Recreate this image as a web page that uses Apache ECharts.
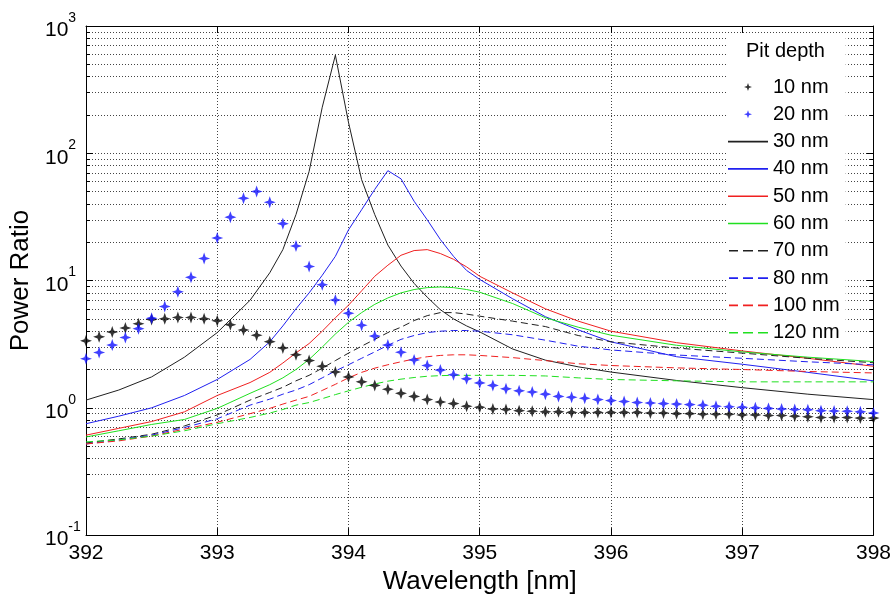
<!DOCTYPE html>
<html>
<head>
<meta charset="utf-8">
<script src="https://cdn.jsdelivr.net/npm/echarts@6/dist/echarts.min.js"></script>
<style>
html,body{margin:0;padding:0;background:#fff;}
#chart{width:894px;height:600px;}
</style>
</head>
<body>
<div id="chart"></div>
<script>
// ---- data ----
const xTicks = [392, 393, 394, 395, 396, 397, 398];
const yTickExponents = [-1, 0, 1, 2, 3];

const starX = [392.0,392.1,392.2,392.3,392.4,392.5,392.6,392.7,392.8,392.9,
  393.0,393.1,393.2,393.3,393.4,393.5,393.6,393.7,393.8,393.9,
  394.0,394.1,394.2,394.3,394.4,394.5,394.6,394.7,394.8,394.9,
  395.0,395.1,395.2,395.3,395.4,395.5,395.6,395.7,395.8,395.9,
  396.0,396.1,396.2,396.3,396.4,396.5,396.6,396.7,396.8,396.9,
  397.0,397.1,397.2,397.3,397.4,397.5,397.6,397.7,397.8,397.9,398.0];

const pit10 = [3.36,3.61,3.94,4.24,4.58,4.95,5.0,5.13,5.13,5.0,
  4.83,4.5,4.09,3.72,3.31,2.95,2.61,2.35,2.12,1.91,
  1.75,1.6,1.5,1.4,1.3,1.23,1.16,1.11,1.08,1.03,
  1.01,0.98,0.97,0.95,0.94,0.93,0.93,0.92,0.92,0.92,
  0.92,0.92,0.92,0.91,0.91,0.9,0.9,0.89,0.89,0.89,
  0.88,0.88,0.87,0.87,0.86,0.85,0.84,0.84,0.84,0.83,0.83];

const pit20 = [2.43,2.72,3.11,3.57,4.19,5.06,6.26,8.15,10.6,14.9,
  21.6,31.5,44.3,50.1,41.2,28.0,18.7,12.9,9.27,7.03,
  5.54,4.45,3.66,3.11,2.73,2.38,2.15,1.98,1.82,1.69,
  1.57,1.5,1.41,1.36,1.33,1.28,1.23,1.21,1.19,1.16,
  1.14,1.12,1.1,1.09,1.08,1.07,1.06,1.05,1.03,1.02,
  1.01,1.0,0.99,0.98,0.97,0.965,0.95,0.945,0.94,0.93,0.91];

const lineX = [392,392.25,392.5,392.75,393,393.25,393.4,393.5,393.6,393.7,393.8,393.9,
  394,394.1,394.2,394.3,394.4,394.5,394.6,394.7,394.8,394.9,
  395,395.25,395.5,395.75,396,396.5,397,397.5,398];

const pit30 = [1.15,1.38,1.75,2.5,3.9,7.0,11.5,17.5,33,72,230,590,
  175,62,33,19,13,9.5,7.4,5.9,5.0,4.4,
  3.95,2.9,2.37,2.1,1.91,1.64,1.44,1.28,1.16];
const pit40 = [0.75,0.86,1.0,1.25,1.67,2.4,3.3,4.4,6.0,8.0,11,15.5,
  25,36,52,73,63,42,30,21,15.5,12,
  10.2,7.2,5.2,4.1,3.3,2.52,2.2,1.9,1.63];
const pit50 = [0.61,0.69,0.78,0.93,1.25,1.58,1.9,2.25,2.7,3.2,4.0,5.1,
  6.4,8.3,10.8,13.2,15.8,17.2,17.5,16.3,14.7,12.8,
  10.8,8.0,6.0,4.8,4.0,3.25,2.8,2.45,2.12];
const pit60 = [0.59,0.66,0.74,0.81,0.99,1.3,1.52,1.72,2.0,2.4,3.0,3.8,
  4.7,5.6,6.5,7.3,8.0,8.5,8.8,8.9,8.8,8.5,
  8.1,6.6,5.1,4.3,3.72,3.1,2.75,2.5,2.31];
const pit70 = [0.53,0.57,0.62,0.72,0.88,1.15,1.32,1.45,1.63,1.8,2.05,2.35,
  2.69,3.05,3.45,3.9,4.3,4.85,5.3,5.6,5.6,5.45,
  5.25,4.8,4.35,3.7,3.3,2.95,2.69,2.45,2.26];
const pit80 = [0.52,0.56,0.61,0.7,0.82,1.05,1.17,1.28,1.38,1.52,1.72,1.95,
  2.18,2.45,2.75,3.1,3.45,3.7,3.9,4.0,4.05,4.05,
  4.0,3.75,3.4,3.05,2.85,2.6,2.45,2.3,2.18];
const pit100 = [0.52,0.55,0.6,0.68,0.77,0.9,0.99,1.07,1.15,1.23,1.37,1.53,
  1.72,1.9,2.05,2.18,2.3,2.42,2.52,2.58,2.61,2.61,
  2.58,2.48,2.35,2.22,2.15,2.06,2.0,1.93,1.88];
const pit120 = [0.54,0.56,0.6,0.66,0.75,0.84,0.91,0.97,1.05,1.1,1.18,1.27,
  1.36,1.45,1.54,1.62,1.68,1.73,1.77,1.79,1.8,1.8,
  1.8,1.8,1.78,1.72,1.67,1.63,1.6,1.6,1.6];

const seriesNames = ['10 nm','20 nm','30 nm','40 nm','50 nm','60 nm','70 nm','80 nm','100 nm','120 nm'];

// ---- helpers ----
function pairs(xs, ys){ return xs.map((x,i)=>[x, ys[i]]); }
const starPath = 'path://M0,-10 L2.6,-2.6 L10,0 L2.6,2.6 L0,10 L-2.6,2.6 L-10,0 L-2.6,-2.6 Z';
const solidIcon = 'path://M0,-4 L0,4 Z M0,-0.8 L40,-0.8 L40,0.8 L0,0.8 Z';
const dashIcon = 'path://M0,-4 L0,4 Z M1,-0.8 L10,-0.8 L10,0.8 L1,0.8 Z M15,-0.8 L25,-0.8 L25,0.8 L15,0.8 Z M30,-0.8 L40,-0.8 L40,0.8 L30,0.8 Z';
const FONT = '"Liberation Sans", Arial, sans-serif';
const gridDot = {color:'#444', width:1, type:[1,2]};

function starSeries(name, ys, color){
  return {name, type:'scatter', data:pairs(starX, ys), symbol:starPath, symbolSize:12,
    itemStyle:{color}, silent:true, z:3};
}
function lineSeries(name, ys, color, dashed){
  return {name, type:'line', data:pairs(lineX, ys), symbol:'none', showSymbol:false,
    lineStyle:{color, width:1, type: dashed ? [7,4] : 'solid'}, itemStyle:{color},
    silent:true, z:2};
}
const dashedFlags = [false,false,false,false,false,false,true,true,true,true];

const chart = echarts.init(document.getElementById('chart'), null, {renderer:'canvas'});
const option = {
  animation:false,
  backgroundColor:'#fff',
  textStyle:{fontFamily:FONT},
  title:{text:'Pit depth', left:746, top:41, padding:0,
    textStyle:{fontFamily:FONT, fontSize:20, fontWeight:'normal', color:'#000'}},
  legend:{
    data:seriesNames.map((n,i)=> i < 2 ? {name:n} : {name:n, icon: dashedFlags[i] ? dashIcon : solidIcon}),
    orient:'vertical', left:726, top:33,
    padding:[44,6,2,2], backgroundColor:'#fff',
    itemWidth:40, itemHeight:8, itemGap:7.3,
    itemStyle:{borderWidth:0},
    textStyle:{fontFamily:FONT, fontSize:20, color:'#000', lineHeight:20},
    selectedMode:false
  },
  grid:{left:86, right:18, top:26, bottom:57},
  xAxis:[{
    type:'value', min:xTicks[0], max:xTicks[xTicks.length-1], interval:1,
    name:'Wavelength [nm]', nameLocation:'middle', nameGap:30,
    nameTextStyle:{fontFamily:FONT, fontSize:26, color:'#000'},
    axisLine:{show:true, onZero:false, lineStyle:{color:'#000', width:1}},
    axisTick:{show:true, inside:true, length:7, lineStyle:{color:'#000'}},
    axisLabel:{fontFamily:FONT, fontSize:21, color:'#000', margin:8},
    splitLine:{show:true, lineStyle:gridDot}
  },{
    type:'value', position:'top', min:xTicks[0], max:xTicks[xTicks.length-1], interval:1,
    axisLine:{show:true, onZero:false, lineStyle:{color:'#000', width:1}},
    axisTick:{show:true, inside:true, length:7, lineStyle:{color:'#000'}},
    axisLabel:{show:false}, splitLine:{show:false}
  }],
  yAxis:[{
    type:'log', logBase:10, min:Math.pow(10,yTickExponents[0]), max:Math.pow(10,yTickExponents[yTickExponents.length-1]),
    name:'Power Ratio', nameLocation:'middle', nameGap:51,
    nameTextStyle:{fontFamily:FONT, fontSize:26, color:'#000'},
    axisLine:{show:true, onZero:false, lineStyle:{color:'#000', width:1}},
    axisTick:{show:true, inside:true, length:7, lineStyle:{color:'#000'}},
    minorTick:{show:true, splitNumber:9, length:4, lineStyle:{color:'#000'}},
    minorSplitLine:{show:true, lineStyle:gridDot},
    splitLine:{show:true, lineStyle:gridDot},
    axisLabel:{
      align:'left', margin:41,
      formatter:function(v){
        const e = Math.round(Math.log10(v));
        return '{b|10}{s|' + e + '}';
      },
      rich:{
        b:{fontFamily:FONT, fontSize:21, color:'#000', lineHeight:30, verticalAlign:'bottom'},
        s:{fontFamily:FONT, fontSize:14, color:'#000', lineHeight:30, verticalAlign:'top'}
      }
    }
  },{
    type:'log', logBase:10, position:'right',
    min:Math.pow(10,yTickExponents[0]), max:Math.pow(10,yTickExponents[yTickExponents.length-1]),
    axisLine:{show:true, onZero:false, lineStyle:{color:'#000', width:1}},
    axisTick:{show:true, inside:true, length:7, lineStyle:{color:'#000'}},
    minorTick:{show:true, splitNumber:9, length:4, lineStyle:{color:'#000'}},
    axisLabel:{show:false}, splitLine:{show:false}
  }],
  series:[
    starSeries(seriesNames[0], pit10, '#000000'),
    starSeries(seriesNames[1], pit20, '#1010ff'),
    lineSeries(seriesNames[2], pit30, '#202020', false),
    lineSeries(seriesNames[3], pit40, '#2020f0', false),
    lineSeries(seriesNames[4], pit50, '#f02020', false),
    lineSeries(seriesNames[5], pit60, '#20e020', false),
    lineSeries(seriesNames[6], pit70, '#202020', true),
    lineSeries(seriesNames[7], pit80, '#2020f0', true),
    lineSeries(seriesNames[8], pit100, '#f02020', true),
    lineSeries(seriesNames[9], pit120, '#20e020', true)
  ]
};
chart.setOption(option);
</script>
</body>
</html>
